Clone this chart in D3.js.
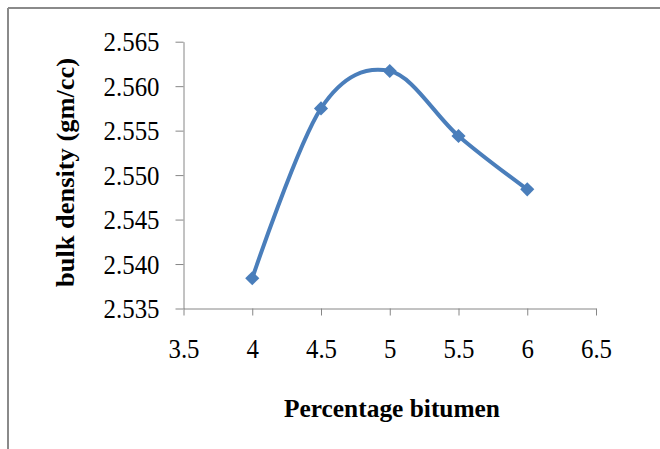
<!DOCTYPE html>
<html>
<head>
<meta charset="utf-8">
<script src="https://cdn.jsdelivr.net/npm/d3@7"></script>
<style>
  html, body { margin: 0; padding: 0; background: #fff; }
  svg { display: block; }
</style>
</head>
<body>
<svg id="chart" width="660" height="449"></svg>
<script>
// ---- data ----
const bitumen = [4, 4.5, 5, 5.5, 6];
const density = [2.5384, 2.5575, 2.5617, 2.5544, 2.5484];
const xTicks = [3.5, 4, 4.5, 5, 5.5, 6, 6.5];
const yTicks = [2.535, 2.540, 2.545, 2.550, 2.555, 2.560, 2.565];
const xTitle = "Percentage bitumen";
const yTitle = "bulk density (gm/cc)";

(function () {
const svg = d3.select("#chart");
const W = 660, H = 449;
const pLeft = 183.5, pRight = 596, pTop = 41.7, pBottom = 308.5;

const x = d3.scaleLinear().domain([3.5, 6.5]).range([pLeft, pRight]);
const y = d3.scaleLinear().domain([2.535, 2.565]).range([pBottom, pTop]);

// frame (left & top border)
svg.append("line").attr("x1", 8).attr("y1", 8).attr("x2", W).attr("y2", 8)
  .attr("stroke", "#8a8a8a").attr("stroke-width", 2);
svg.append("line").attr("x1", 8).attr("y1", 8).attr("x2", 8).attr("y2", H)
  .attr("stroke", "#8a8a8a").attr("stroke-width", 2);

const axisColor = "#868686";
const tickFont = "'Liberation Serif', 'Times New Roman', serif";

function condense(sel, f) {
  sel.each(function () {
    const L = this.getComputedTextLength();
    d3.select(this).attr("textLength", L * f).attr("lengthAdjust", "spacingAndGlyphs");
  });
}

// y axis
const yAxis = svg.append("g").attr("transform", `translate(${pLeft},0)`)
  .call(d3.axisLeft(y).tickValues(yTicks).tickFormat(d3.format(".3f")).tickSize(8).tickSizeOuter(0));
yAxis.select(".domain").attr("stroke", axisColor);
yAxis.selectAll(".tick line").attr("stroke", axisColor);
yAxis.selectAll(".tick text")
  .attr("font-family", tickFont).attr("font-size", 27).attr("fill", "#000")
  .attr("x", -24).attr("dy", "0.335em");
condense(yAxis.selectAll(".tick text"), 0.92);

// x axis
const xAxis = svg.append("g").attr("transform", `translate(0,${pBottom})`)
  .call(d3.axisBottom(x).tickValues(xTicks).tickFormat(d => String(d)).tickSize(7).tickSizeOuter(0));
xAxis.select(".domain").attr("stroke", axisColor);
xAxis.selectAll(".tick line").attr("stroke", axisColor);
xAxis.selectAll(".tick text")
  .attr("font-family", tickFont).attr("font-size", 27).attr("fill", "#000")
  .attr("y", 49.5).attr("dy", 0);
condense(xAxis.selectAll(".tick text"), 0.92);

// axis titles
const xt = svg.append("text")
  .attr("x", 392).attr("y", 417)
  .attr("text-anchor", "middle")
  .attr("font-family", tickFont).attr("font-weight", "bold").attr("font-size", 26)
  .text(xTitle);
xt.attr("textLength", 216).attr("lengthAdjust", "spacingAndGlyphs");

const yt = svg.append("text")
  .attr("transform", `translate(74,172.5) rotate(-90)`)
  .attr("text-anchor", "middle")
  .attr("font-family", tickFont).attr("font-weight", "bold").attr("font-size", 26)
  .text(yTitle);
yt.attr("textLength", 229).attr("lengthAdjust", "spacingAndGlyphs");

// series
const pts = bitumen.map((b, i) => [b, density[i]]);
const line = d3.line().x(d => x(d[0])).y(d => y(d[1])).curve(d3.curveCardinal.tension(0));
const blue = "#4a7ebb";
svg.append("path").datum(pts).attr("d", line)
  .attr("fill", "none").attr("stroke", blue).attr("stroke-width", 4);

svg.append("g").selectAll("path").data(pts).join("path")
  .attr("d", d3.symbol(d3.symbolSquare, 100))
  .attr("transform", d => `translate(${x(d[0])},${y(d[1])}) rotate(45)`)
  .attr("fill", blue);
})();
</script>
</body>
</html>
